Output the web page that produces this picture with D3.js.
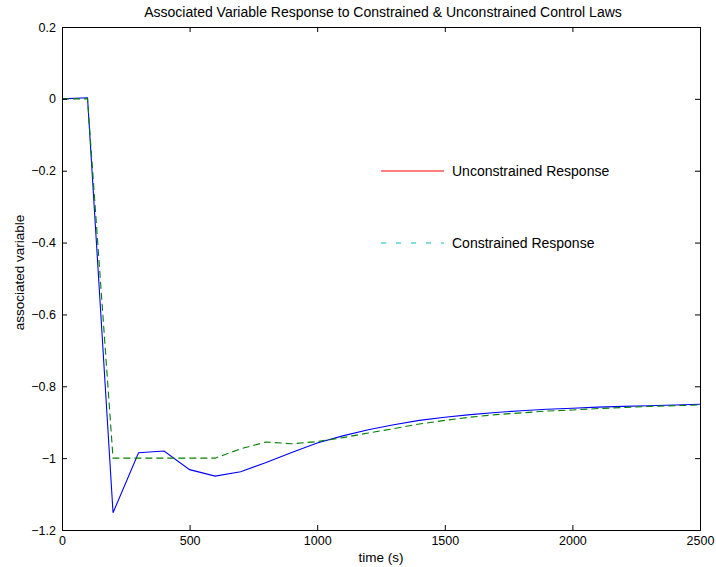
<!DOCTYPE html>
<html><head><meta charset="utf-8">
<script src="https://cdn.jsdelivr.net/npm/d3@7"></script>
<style>body{margin:0;background:#fff}svg{display:block}text{font-family:"Liberation Sans",Arial,sans-serif;fill:#000}</style>
</head><body><svg id="c" width="716" height="567"></svg>
<script>
const times = [0,100,200,300,400,500,600,700,800,900,1000,1100,1200,1300,1400,1500,1600,1700,1800,1900,2000,2100,2200,2300,2400,2500];
const unconstrained = [0,0.003,-1.152,-0.985,-0.980,-1.032,-1.050,-1.038,-1.012,-0.984,-0.958,-0.938,-0.921,-0.907,-0.895,-0.886,-0.879,-0.873,-0.868,-0.864,-0.861,-0.858,-0.856,-0.854,-0.852,-0.850];
const constrained = [0,0,-1.0,-1.0,-1.0,-1.0,-1.0,-0.974,-0.955,-0.960,-0.954,-0.943,-0.930,-0.918,-0.905,-0.895,-0.886,-0.879,-0.874,-0.869,-0.866,-0.862,-0.859,-0.856,-0.854,-0.852];
const xTicks = [0,500,1000,1500,2000,2500];
const yTicks = [0.2,0,-0.2,-0.4,-0.6,-0.8,-1,-1.2];
const title = "Associated Variable Response to Constrained & Unconstrained Control Laws";
const legendLabels = ["Unconstrained Response","Constrained Response"];

const svg = d3.select("#c");
const L=62,R=700,T=27,B=530;
const x = d3.scaleLinear().domain([0,2500]).range([L,R]);
const y = d3.scaleLinear().domain([-1.2,0.2]).range([B,T]);
const fmt = v => (v<0?"\u2212":"")+String(Math.abs(Math.round(v*10)/10));

// lines
const line = d3.line().x((d,i)=>x(times[i])).y(d=>y(d));
svg.append("path").attr("d",line(unconstrained)).attr("fill","none").attr("stroke","#0000ff").attr("stroke-width",1.1);
svg.append("path").attr("d",line(constrained)).attr("fill","none").attr("stroke","#008000").attr("stroke-width",1.1).attr("stroke-dasharray","7,4");

// axes
const tl=5;
const gb = svg.append("g").attr("transform",`translate(0,${B})`).call(d3.axisBottom(x).tickValues(xTicks).tickSize(-tl).tickPadding(6).tickFormat(d3.format("d")));
const gt = svg.append("g").attr("transform",`translate(0,${T})`).call(d3.axisTop(x).tickValues(xTicks).tickSize(-tl).tickFormat(""));
const gl = svg.append("g").attr("transform",`translate(${L},0)`).call(d3.axisLeft(y).tickValues(yTicks).tickSize(-tl).tickPadding(6).tickFormat(fmt));
const gr = svg.append("g").attr("transform",`translate(${R},0)`).call(d3.axisRight(y).tickValues(yTicks).tickSize(-tl).tickFormat(""));
[gb,gt,gl,gr].forEach(g=>{
  g.select(".domain").attr("stroke","#000").attr("stroke-width",1);
  g.selectAll(".tick line").attr("stroke","#000");
  g.selectAll("text").style("font-family","'Liberation Sans',Arial,sans-serif").style("font-size","12.5px").attr("fill","#000");
});
// text
svg.append("text").attr("x",383).attr("y",17).attr("text-anchor","middle").style("font-size","14px").text(title);
svg.append("text").attr("x",(L+R)/2).attr("y",562).attr("text-anchor","middle").style("font-size","13.5px").text("time (s)");
svg.append("text").attr("transform",`translate(24,${(T+B)/2 - 6}) rotate(-90)`).attr("text-anchor","middle").style("font-size","13.5px").text("associated variable");

// legend
const lg = svg.append("g");
const ly = [171,243], lc=["#ff0000","#00bfbf"], ld=[null,"5,10"];
legendLabels.forEach((t,i)=>{
  lg.append("line").attr("x1",381).attr("x2",444).attr("y1",ly[i]).attr("y2",ly[i]).attr("stroke",lc[i]).attr("stroke-width",1.1).attr("stroke-dasharray",ld[i]);
  lg.append("text").attr("x",452).attr("y",ly[i]+5).style("font-size","14px").text(t);
});
</script></body></html>
